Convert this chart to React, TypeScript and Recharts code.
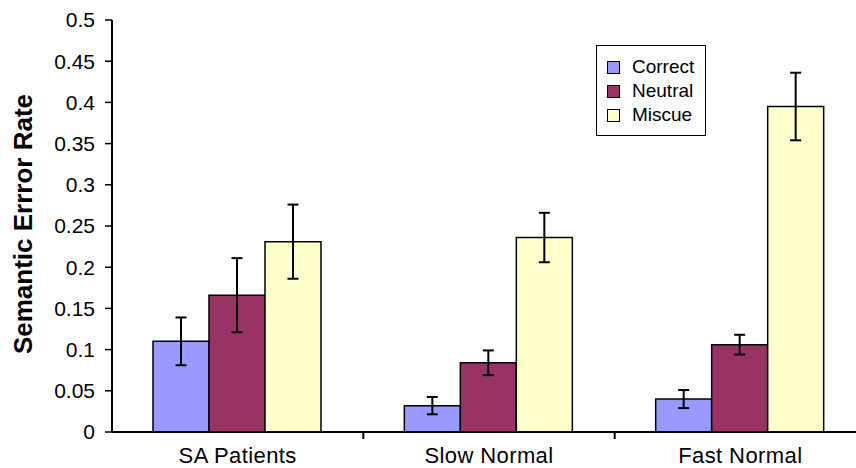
import { BarChart, Bar, XAxis, YAxis, ErrorBar, Legend } from "recharts";

const categories = ["SA Patients", "Slow Normal", "Fast Normal"];
const correct = [0.11, 0.032, 0.04];
const neutral = [0.166, 0.084, 0.106];
const miscue = [0.231, 0.236, 0.395];
const correctErr = [0.029, 0.0105, 0.011];
const neutralErr = [0.045, 0.015, 0.012];
const miscueErr = [0.045, 0.03, 0.041];
const yTicks = [0, 0.05, 0.1, 0.15, 0.2, 0.25, 0.3, 0.35, 0.4, 0.45, 0.5];

const series = [
  { key: "Correct", color: "#9999FF" },
  { key: "Neutral", color: "#993366" },
  { key: "Miscue", color: "#FFFFCC" },
];

const data = categories.map((name, i) => ({
  name,
  Correct: correct[i],
  Neutral: neutral[i],
  Miscue: miscue[i],
  CorrectErr: correctErr[i],
  NeutralErr: neutralErr[i],
  MiscueErr: miscueErr[i],
}));

const FONT = '"Liberation Sans", Arial, sans-serif';

// label in the middle of the band, small tick marks on the band edges
const CategoryTick = (props: any) => {
  const { x, y, payload, index } = props;
  const half = payload.offset ?? 0;
  const axisY = y - 15;
  return (
    <g>
      {index > 0 && (
        <line x1={x - half} x2={x - half} y1={axisY} y2={axisY + 7} stroke="#000" strokeWidth={2} />
      )}
      {index === categories.length - 1 && (
        <line x1={x + half} x2={x + half} y1={axisY} y2={axisY + 7} stroke="#000" strokeWidth={2} />
      )}
      <text x={x} y={y} dy="0.71em" textAnchor="middle" fontSize={22} letterSpacing={0.4} fontFamily={FONT} fill="#000">
        {payload.value}
      </text>
    </g>
  );
};

const LegendBox = () => (
  <div
    style={{
      width: 108,
      height: 89,
      border: "1.5px solid #000",
      background: "#fff",
      fontFamily: FONT,
      position: "relative",
    }}
  >
    {series.map((s, i) => (
      <div key={s.key} style={{ position: "absolute", left: 10, top: 10 + i * 24, height: 22, display: "flex", alignItems: "center" }}>
        <span style={{ width: 11, height: 11, background: s.color, border: "1px solid #000", display: "inline-block" }} />
        <span style={{ marginLeft: 12, fontSize: 19, lineHeight: "22px" }}>{s.key}</span>
      </div>
    ))}
  </div>
);

export default function App() {
  return (
    <div style={{ position: "absolute", left: 0, top: 0, width: 856, height: 468, overflow: "hidden", background: "#fff" }}>
      <BarChart
        width={866}
        height={468}
        data={data}
        margin={{ top: 20, right: 0, bottom: 0, left: 0 }}
        barCategoryGap={41}
        barGap={0}
      >
        <XAxis
          dataKey="name"
          height={36}
          tickLine={false}
          tickSize={7}
          tickMargin={8}
          axisLine={{ stroke: "#000", strokeWidth: 2 }}
          tick={<CategoryTick />}
          interval={0}
        />
        <YAxis
          width={112}
          domain={[0, 0.5]}
          ticks={yTicks}
          tickSize={7}
          tickMargin={10}
          axisLine={{ stroke: "#000", strokeWidth: 2 }}
          tickLine={{ stroke: "#000", strokeWidth: 1.5 }}
          tick={{ fill: "#000", fontSize: 21, fontFamily: FONT }}
          label={{
            content: () => (
              <text
                x={23}
                y={224}
                transform="rotate(-90 23 224)"
                textAnchor="middle"
                dominantBaseline="central"
                fontSize={26}
                fontWeight="bold"
                fontFamily={FONT}
                fill="#000"
              >
                Semantic Errror Rate
              </text>
            ),
          }}
        />
        <Legend
          layout="horizontal"
          verticalAlign="middle"
          align="center"
          content={() => <LegendBox />}
          wrapperStyle={{ position: "absolute", left: 596, top: 45, width: 111, height: 92 }}
        />
        {series.map((s) => (
          <Bar key={s.key} dataKey={s.key} fill={s.color} stroke="#000" strokeWidth={1.5} isAnimationActive={false}>
            <ErrorBar dataKey={s.key + "Err"} width={5.5} stroke="#000" strokeWidth={2} isAnimationActive={false} />
          </Bar>
        ))}
      </BarChart>
    </div>
  );
}
